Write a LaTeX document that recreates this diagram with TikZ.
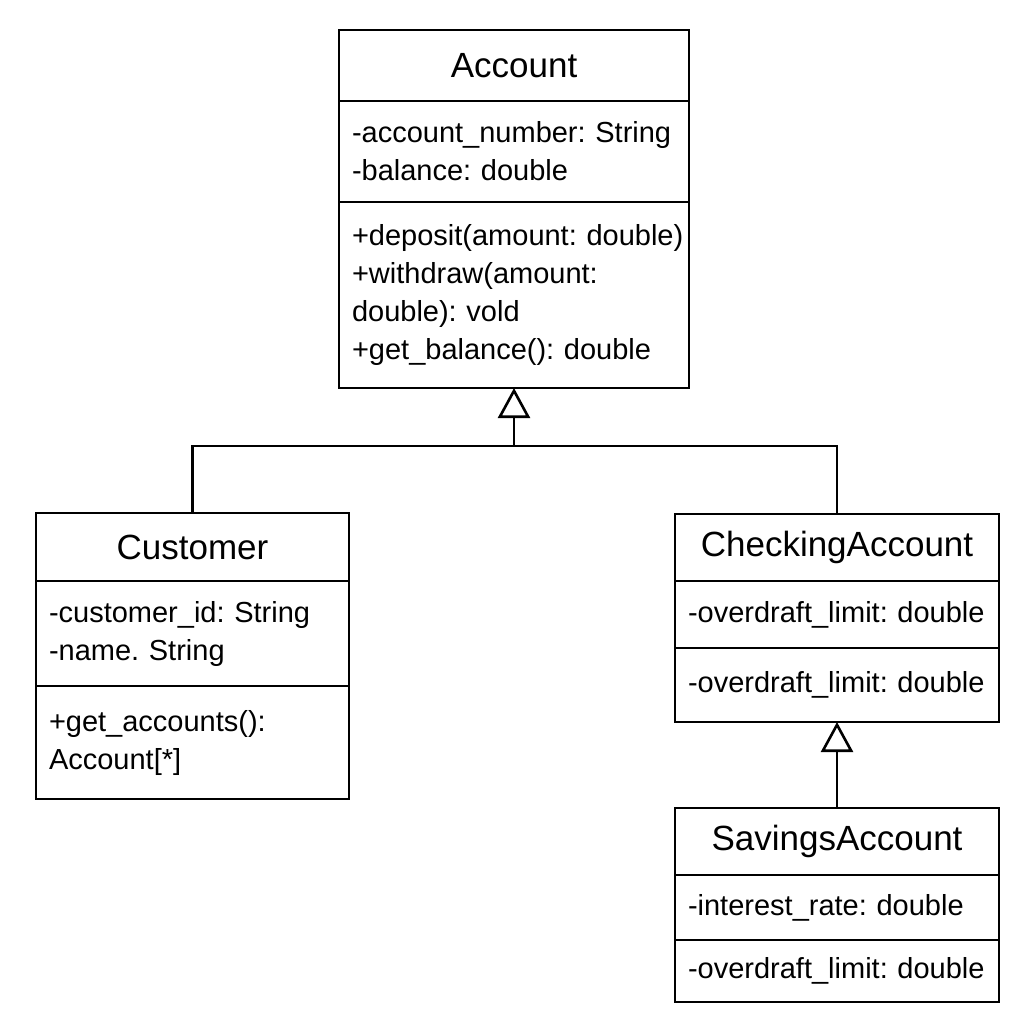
\documentclass[tikz,border=0pt]{standalone}
\usepackage{fontspec}
\setmainfont{Liberation Sans}
\usetikzlibrary{arrows.meta, positioning}

\newcommand{\headfont}{\fontsize{35}{42}\selectfont}
\newcommand{\bodyfont}{\fontsize{29}{38}\selectfont\frenchspacing\hyphenpenalty=10000\exhyphenpenalty=10000}

\tikzset{
    classhead/.style 2 args={draw, line width=2.6pt, outer sep=0pt, inner sep=0pt,
        anchor=north west, minimum width=#1, minimum height=#2, font=\headfont},
    classbody/.style 2 args={draw, line width=2.6pt, outer sep=0pt, inner xsep=13pt,
        inner ysep=0pt, text width=#1, minimum height=#2, align=left, font=\bodyfont},
    inherit/.style={line width=2.6pt, -{Triangle[open, length=30pt, width=32pt]}}
}

\begin{document}
\begin{tikzpicture}[x=1pt, y=-1pt]
        \path[fill=white] (0,0) rectangle (1024,1024);

        % Account
        \node[classhead={350pt}{71pt}] (acct) at (339,30) {Account};
        \node[classbody={324pt}{101pt}] (acct-attr) [below=0pt of acct]
            {-account\_number: String\\-balance: double};
        \node[classbody={324pt}{186pt}] (acct-ops) [below=0pt of acct-attr]
            {\mbox{+deposit(amount: double)}\\+withdraw(amount:\\double): vold\\+get\_balance(): double};

        % Customer
        \node[classhead={313pt}{68pt}] (cust) at (36,513) {Customer};
        \node[classbody={287pt}{105pt}] (cust-attr) [below=0pt of cust]
            {-customer\_id: String\\-name. String};
        \node[classbody={287pt}{113pt}] (cust-ops) [below=0pt of cust-attr]
            {+get\_accounts():\\Account[*]};

        % CheckingAccount
        \node[classhead={324pt}{67pt}] (check) at (675,514) {CheckingAccount};
        \node[classbody={298pt}{67pt}] (check-attr) [below=0pt of check]
            {\mbox{-overdraft\_limit: double}};
        \node[classbody={298pt}{74pt}] (check-ops) [below=0pt of check-attr]
            {\mbox{-overdraft\_limit: double}};

        % SavingsAccount
        \node[classhead={324pt}{67pt}] (sav) at (675,808) {SavingsAccount};
        \node[classbody={298pt}{65pt}] (sav-attr) [below=0pt of sav]
            {-interest\_rate: double};
        \node[classbody={298pt}{62pt}] (sav-ops) [below=0pt of sav-attr]
            {\mbox{-overdraft\_limit: double}};

        % generalisation
        \coordinate (split) at (acct-ops.south |- 0,446);
        \draw[inherit] (split) -- (acct-ops.south);
        \draw[line width=2.6pt] (cust.north) |- (split) -| (check.north);
        \draw[inherit] (sav.north) -- (check-ops.south);
    \end{tikzpicture}
\end{document}
